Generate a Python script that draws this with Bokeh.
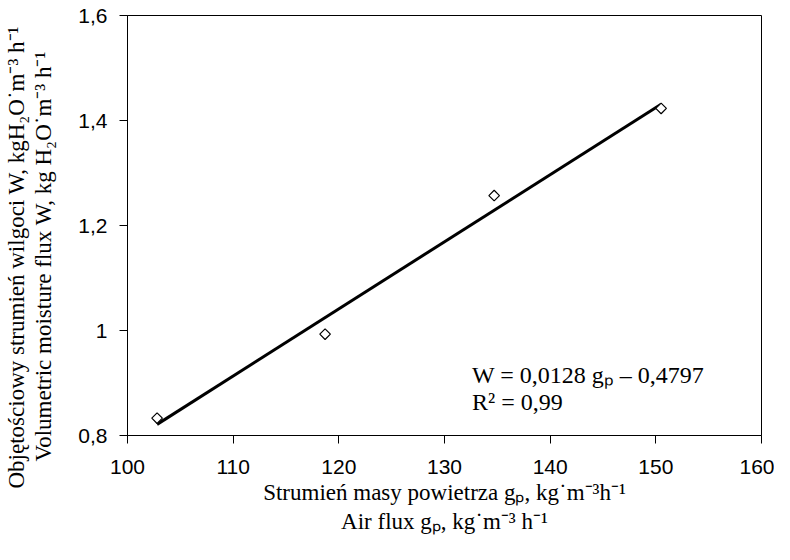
import numpy as np
from bokeh.plotting import figure
from bokeh.models import Label, Title, FixedTicker, CustomJSTickFormatter
from bokeh.embed import file_html
from bokeh.resources import INLINE

# ---- data ----
air_flux = [102.8, 118.7, 134.7, 150.5]
moisture_flux = [0.833, 0.993, 1.257, 1.423]
x_ticks = [100, 110, 120, 130, 140, 150, 160]
x_tick_labels = ["100", "110", "120", "130", "140", "150", "160"]
y_ticks = [0.8, 1.0, 1.2, 1.4, 1.6]
y_tick_labels = ["0,8", "1", "1,2", "1,4", "1,6"]
equation_text = "W = 0,0128 g\u209a \u2013 0,4797"
r2_text = "R\u00b2 = 0,99"
x_title_pl = "Strumie\u0144 masy powietrza g\u209a, kg\u02d9m\u207b\u00b3h\u207b\u00b9"
x_title_en = "Air flux g\u209a, kg\u02d9m\u207b\u00b3 h\u207b\u00b9"
y_title_pl = "Objęto\u015bciowy strumie\u0144 wilgoci  W, kgH\u2082O\u02d9m\u207b\u00b3 h\u207b\u00b9"
y_title_en = "Volumetric moisture flux W, kg H\u2082O\u02d9m\u207b\u00b3 h\u207b\u00b9"

W, H = 774, 544
p = figure(width=W, height=H, x_range=(100, 160), y_range=(0.8, 1.6),
           output_backend="svg", toolbar_location=None,
           min_border_left=127, min_border_right=13,
           min_border_top=15, min_border_bottom=109)
p.background_fill_color = "white"
p.border_fill_color = "white"
p.outline_line_color = "black"
p.outline_line_width = 1
p.xgrid.visible = False
p.ygrid.visible = False

fmt_code = ("const i = tvals.findIndex(t => Math.abs(t - tick) < 1e-9);"
            "return i >= 0 ? tlabels[i] : '';")
p.xaxis.ticker = FixedTicker(ticks=x_ticks)
p.xaxis.formatter = CustomJSTickFormatter(args=dict(tvals=x_ticks, tlabels=x_tick_labels), code=fmt_code)
p.yaxis.ticker = FixedTicker(ticks=y_ticks)
p.yaxis.formatter = CustomJSTickFormatter(args=dict(tvals=y_ticks, tlabels=y_tick_labels), code=fmt_code)

for ax in (p.xaxis, p.yaxis):
    ax.axis_line_color = "black"
    ax.axis_line_width = 1
    ax.major_tick_line_color = "black"
    ax.major_tick_out = 8
    ax.major_tick_in = 0
    ax.minor_tick_line_color = None
    ax.major_label_text_font = "Liberation Sans"
    ax.major_label_text_font_size = "21px"
    ax.major_label_text_color = "black"
p.xaxis.major_label_standoff = 16
p.yaxis.major_label_standoff = 12

# trend line from least squares on the data
coef = np.polyfit(air_flux, moisture_flux, 1)
xs = [min(air_flux), max(air_flux)]
ys = [coef[0] * v + coef[1] for v in xs]
p.line(xs, ys, line_color="black", line_width=3)

p.scatter(air_flux, moisture_flux, marker="square", angle=np.pi / 4, size=7.5,
          fill_color="white", line_color="black", line_width=1.2)

serif = "Liberation Serif"
p.add_layout(Label(x=132.6, y=0.916, text=equation_text, text_font=serif,
                   text_font_size="24px", text_baseline="middle", text_color="black"))
p.add_layout(Label(x=132.6, y=0.863, text=r2_text, text_font=serif,
                   text_font_size="24px", text_baseline="middle", text_color="black"))

def title(txt, size="23px", **kw):
    return Title(text=txt, text_font=serif, text_font_size=size,
                 text_font_style="normal", text_color="black", **kw)

p.add_layout(title(x_title_pl, align="center", standoff=3), "below")
p.add_layout(title(x_title_en, align="center", standoff=0), "below")
p.add_layout(title(" ", size="1px", standoff=17), "left")
p.add_layout(title(y_title_en, align="left", offset=-26, standoff=0), "left")
p.add_layout(title(y_title_pl, align="left", offset=-53, standoff=0), "left")

open("out.html", "w").write(file_html(p, INLINE))
